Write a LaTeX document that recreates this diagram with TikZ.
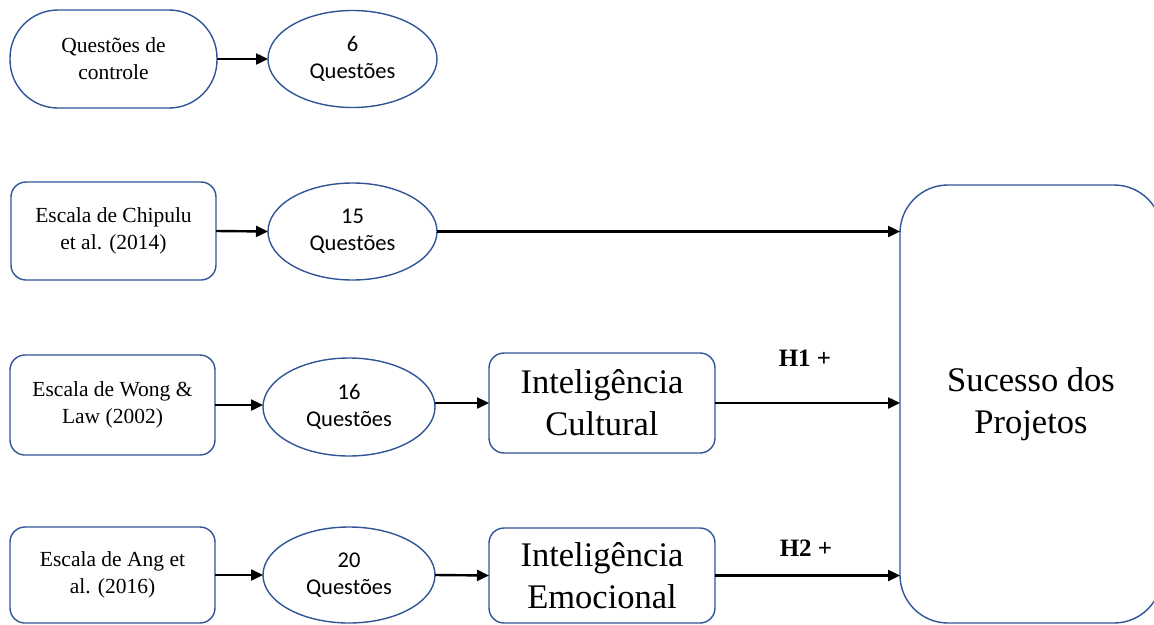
\documentclass[tikz,border=0pt]{standalone}
\usepackage{fontspec}
\setmainfont{Liberation Serif}
\newfontfamily\calib{Carlito}
\usetikzlibrary{arrows.meta,shapes.geometric}
\definecolor{bordblue}{HTML}{2F5597}
\tikzset{
  every node/.style={inner sep=0pt, outer sep=0pt},
  srcbox/.style={draw=bordblue, line width=1.4pt, rounded corners=15pt, align=center, font=\fontsize{21.5}{27}\selectfont},
  bigbox/.style={draw=bordblue, line width=1.4pt, rounded corners=15pt, align=center, font=\fontsize{34.5}{42}\selectfont},
  qell/.style={draw=bordblue, line width=1.4pt, ellipse, align=center, font=\calib\fontsize{22.5}{27}\selectfont},
  conn/.style={line width=2.4pt, -{Triangle[length=12pt,width=11pt]}},
  hlab/.style={font=\bfseries\fontsize{25}{29}\selectfont}
}
\begin{document}
\begin{tikzpicture}[x=1pt,y=-1pt]
\useasboundingbox (0,0) rectangle (1154,624);
% row 1
\node[srcbox, rounded corners=48pt, minimum width=207pt, minimum height=98pt] (ctrl) at (113.5,59) {Questões de\\controle};
\node[qell, minimum width=169pt, minimum height=97pt] (q6) at (352.5,59) {6\\Questões};
% row 2
\node[srcbox, minimum width=205pt, minimum height=98pt] (chip) at (113.5,231) {Escala de Chipulu\\et al. (2014)};
\node[qell, minimum width=169pt, minimum height=97pt] (q15) at (352.5,231.5) {15\\Questões};
% row 3
\node[srcbox, minimum width=205pt, minimum height=100pt] (wong) at (112.5,405) {Escala de Wong \&\\Law (2002)};
\node[qell, minimum width=172pt, minimum height=98pt] (q16) at (349,407) {16\\Questões};
\node[bigbox, minimum width=226pt, minimum height=100pt] (ic) at (602,403) {Inteligência\\Cultural};
% row 4
\node[srcbox, minimum width=205pt, minimum height=96pt] (ang) at (112.5,575) {Escala de Ang et\\al. (2016)};
\node[qell, minimum width=172pt, minimum height=96pt] (q20) at (349,575) {20\\Questões};
\node[bigbox, minimum width=226pt, minimum height=95pt] (ie) at (602,575.5) {Inteligência\\Emocional};
% target
\node[bigbox, rounded corners=48pt, minimum width=262pt, minimum height=438pt] (suc) at (1031,404) {Sucesso dos\\Projetos};
% connectors
\draw[conn] (ctrl.east) -- (q6.west);
\draw[conn] (chip.east) -- (q15.west);
\draw[conn] (q15.east) -- (q15.east -| suc.west);
\draw[conn] (wong.east) -- (wong.east -| q16.west);
\draw[conn] (q16.east |- ic.west) -- (ic.west);
\draw[conn] (ic.east) -- (ic.east -| suc.west);
\draw[conn] (ang.east) -- (q20.west);
\draw[conn] (q20.east) -- (ie.west);
\draw[conn] (ie.east) -- (ie.east -| suc.west);
% labels
\node[hlab] (h1) at (805,358) {H1 +};
\node[hlab] (h2) at (806,548) {H2 +};
\end{tikzpicture}
\end{document}
